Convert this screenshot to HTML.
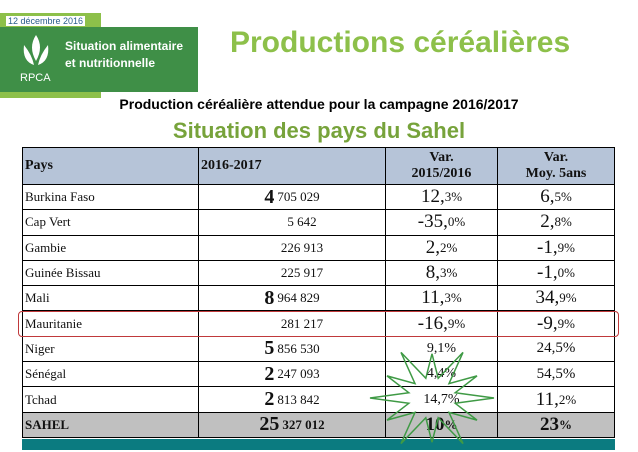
<!DOCTYPE html>
<html><head><meta charset="utf-8">
<style>
body{margin:0;width:638px;height:452px;background:#fff;position:relative;overflow:hidden;font-family:"Liberation Serif",serif;}
.a{position:absolute;}
.cell{position:absolute;box-sizing:border-box;border-right:1px solid #000;border-bottom:1px solid #000;display:flex;align-items:center;font-size:13px;color:#111;}
.big{font-size:19px;}
.bb{font-size:20px;font-weight:bold;margin-right:3px;}
.hd{font-size:14px;font-weight:bold;text-align:center;line-height:16px;}
</style></head><body>
<div class="a" style="left:0;top:13px;width:101px;height:85px;background:#8dc04a"></div>
<div class="a" style="left:6px;top:16px;font:9px 'Liberation Sans',sans-serif;color:#2a5e8c;background:#fff;padding:0 2px">12 décembre 2016</div>
<div class="a" style="left:0;top:27px;width:198px;height:65px;background:#3f8f47"></div>
<svg class="a" style="left:18px;top:33px" width="40" height="52"><path d="M18 2 Q26 14 18 28 Q10 14 18 2Z M6 12 Q14 22 16 32 Q4 28 6 12Z M30 12 Q32 28 20 32 Q22 22 30 12Z" fill="#fff"/><text x="2" y="48" fill="#fff" font-family="Liberation Sans" font-size="11">RPCA</text></svg>
<div class="a" style="left:65px;top:38px;font:bold 12px/17px 'Liberation Sans',sans-serif;color:#fff">Situation alimentaire<br>et nutritionnelle</div>
<div class="a" style="left:230px;top:26px;font:bold 30px 'Liberation Sans',sans-serif;color:#8dc04a">Productions céréalières</div>
<div class="a" style="left:0;width:638px;text-align:center;top:96px;font:bold 14px 'Liberation Sans',sans-serif;color:#000">Production céréalière attendue pour la campagne 2016/2017</div>
<div class="a" style="left:0;width:638px;text-align:center;top:118px;font:bold 22px 'Liberation Sans',sans-serif;color:#77a33b">Situation des pays du Sahel</div>
<div id="tbl"></div>
<div class="a" style="left:22px;top:439px;width:593px;height:11px;background:#0b7b80"></div>
<div class="a" style="left:18px;top:311px;width:601px;height:26px;border:1.5px solid #c0393b;border-radius:4px;box-sizing:border-box"></div>
<svg class="a" style="left:360px;top:348px" width="150" height="104"><polygon id="star" fill="none" stroke="#3f9a45" stroke-width="1.5"/></svg>
<script>
const countries=["Burkina Faso","Cap Vert","Gambie","Guinée Bissau","Mali","Mauritanie","Niger","Sénégal","Tchad","SAHEL"];
const prodBig=["4","","","","8","","5","2","2","25"];
const prodRest=["705 029","5 642","226 913","225 917","964 829","281 217","856 530","247 093","813 842","327 012"];
const var1Big=["12,","-35,","2,","8,","11,","-16,","","","","10"];
const var1Small=["3%","0%","2%","3%","3%","9%","9,1%","4,4%","14,7%","%"];
const var2Big=["6,","2,","-1,","-1,","34,","-9,","","","11,","23"];
const var2Small=["5%","8%","9%","0%","9%","9%","24,5%","54,5%","2%","%"];
const X=[22,199,386,498,615],top0=147,hh=38,rh=25.3;
const t=document.getElementById('tbl');
function cell(x0,x1,y,h,bg,html,align,pad){
 const d=document.createElement('div');d.className='cell';
 d.style.cssText=`left:${x0}px;top:${y}px;width:${x1-x0}px;height:${h}px;background:${bg};justify-content:${align};padding-left:${pad||0}px;`+(x0==X[0]?'border-left:1px solid #000;':'');
 d.innerHTML=html;t.appendChild(d);return d;}
let h=cell(X[0],X[1],top0,hh,'#b6c4d8','<span class="hd">Pays</span>','flex-start',2);h.style.borderTop='1px solid #000';


h=cell(X[1],X[2],top0,hh,'#b6c4d8','<span class="hd">2016-2017</span>','flex-start',2);h.style.borderTop='1px solid #000';


h=cell(X[2],X[3],top0,hh,'#b6c4d8','<span class="hd">Var.<br>2015/2016</span>','center');h.style.borderTop='1px solid #000';


h=cell(X[3],X[4],top0,hh,'#b6c4d8','<span class="hd">Var.<br>Moy. 5ans</span>','center');h.style.borderTop='1px solid #000';


countries.forEach((c,i)=>{
 const y=top0+hh+i*rh,last=i==countries.length-1,bg=last?'#c0c0c0':'#fff',w=last?'bold':'normal';
 let a=cell(X[0],X[1],y,rh,bg,`<span style="font-weight:${w}">${c}</span>`,'flex-start',2);
 
 
 let b=cell(X[1],X[2],y,rh,bg,(prodBig[i]?`<span class="bb">${prodBig[i]}</span>`:'')+`<span style="font-weight:${w}">${prodRest[i]}</span>`,'center',prodBig[i]?0:20);
 
 
 const s1=var1Big[i]?'':'font-size:14px;';
 let v=cell(X[2],X[3],y,rh,bg,`<span class="big" style="font-weight:${w}">${var1Big[i]}</span><span style="${s1}font-weight:${w}">${var1Small[i]}</span>`,'center');
 
 
 const s2=var2Big[i]?'':'font-size:15px;';
 let m=cell(X[3],X[4],y,rh,bg,`<span class="big" style="font-weight:${w}">${var2Big[i]}</span><span style="${s2}font-weight:${w}">${var2Small[i]}</span>`,'center');
 
 
});
const pts=[];const cx=72,cy=50;
for(let k=0;k<24;k++){const r=k%2?24:(k%4?52:62);const a=k*Math.PI/12;pts.push((cx+r*Math.cos(a)).toFixed(1)+','+(cy+r*0.85*Math.sin(a)).toFixed(1));}
document.getElementById('star').setAttribute('points',pts.join(' '));
</script>
</body></html>
